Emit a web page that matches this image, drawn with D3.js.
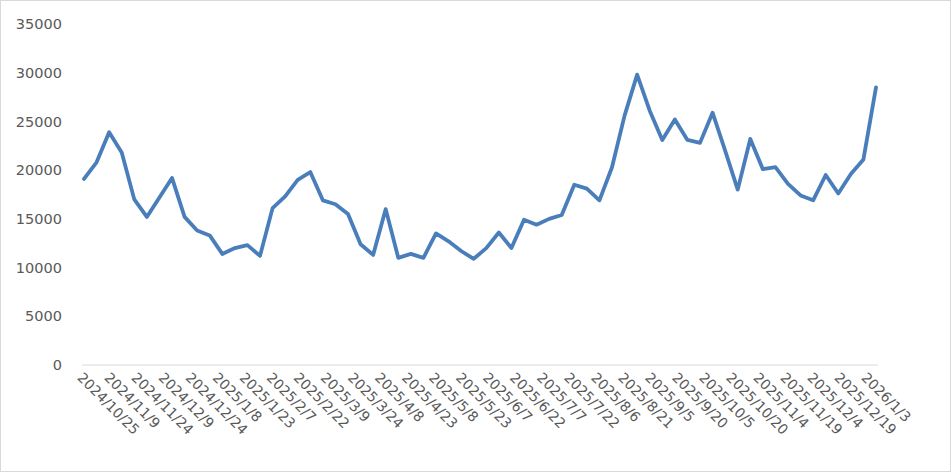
<!DOCTYPE html>
<html><head><meta charset="utf-8">
<script src="https://cdn.jsdelivr.net/npm/d3@7"></script>
<style>body{margin:0;background:#fff}svg{display:block}</style>
</head><body>
<script>
const values = [19100,20800,23900,21800,17000,15200,17200,19200,15200,13800,13300,11400,12000,12300,11200,16100,17300,19000,19800,16900,16500,15500,12400,11300,16000,11000,11400,11000,13500,12700,11700,10900,
12000,13600,12000,14900,14400,15000,15400,18500,18100,16900,20300,25600,29800,26100,23100,25200,23100,22800,25900,22000,18000,23200,20100,20300,18600,17400,16900,19500,17600,19600,21100,28500];
const tickLabels = ["2024/10/25","2024/11/9","2024/11/24","2024/12/9","2024/12/24","2025/1/8","2025/1/23","2025/2/7","2025/2/22","2025/3/9","2025/3/24","2025/4/8","2025/4/23","2025/5/8","2025/5/23","2025/6/7","2025/6/22","2025/7/7","2025/7/22","2025/8/6","2025/8/21","2025/9/5","2025/9/20","2025/10/5","2025/10/20","2025/11/4","2025/11/19","2025/12/4","2025/12/19","2026/1/3"];
const yTicks = [0,5000,10000,15000,20000,25000,30000,35000];

const W=951,H=472;
const svg=d3.select("body").append("svg").attr("width",W).attr("height",H);
svg.append("rect").attr("x",0.5).attr("y",0.5).attr("width",W-1).attr("height",H-1).attr("fill","#fff").attr("stroke","#d9d9d9");
const y=d3.scaleLinear().domain([0,35000]).range([365,24]);
const x=d3.scaleLinear().domain([0,values.length-1]).range([84,876]);
const xl=d3.scalePoint().domain(tickLabels).range([84,868]);

svg.append("line").attr("x1",82).attr("x2",878).attr("y1",y(0)).attr("y2",y(0)).attr("stroke","#d9d9d9").attr("stroke-width",1);

svg.selectAll("text.y").data(yTicks).join("text").attr("class","y")
 .attr("x",62).attr("y",d=>y(d)).attr("dy","0.35em").attr("text-anchor","end")
 .attr("font-family","'DejaVu Sans',sans-serif").attr("font-size",14.5).attr("fill","#595959").text(d=>d);

svg.selectAll("text.x").data(tickLabels).join("text").attr("class","x")
 .attr("transform",d=>`translate(${xl(d)-4},${y(0)+10}) rotate(45)`)
 .attr("text-anchor","start").attr("dy","0.35em")
 .attr("font-family","'DejaVu Sans',sans-serif").attr("font-size",14).attr("fill","#595959").text(d=>d);

svg.append("path").datum(values)
 .attr("d",d3.line().x((d,i)=>x(i)).y(d=>y(d)))
 .attr("fill","none").attr("stroke","#4a7ebb").attr("stroke-width",3.8).attr("stroke-linejoin","round").attr("stroke-linecap","round");
</script>
</body></html>
